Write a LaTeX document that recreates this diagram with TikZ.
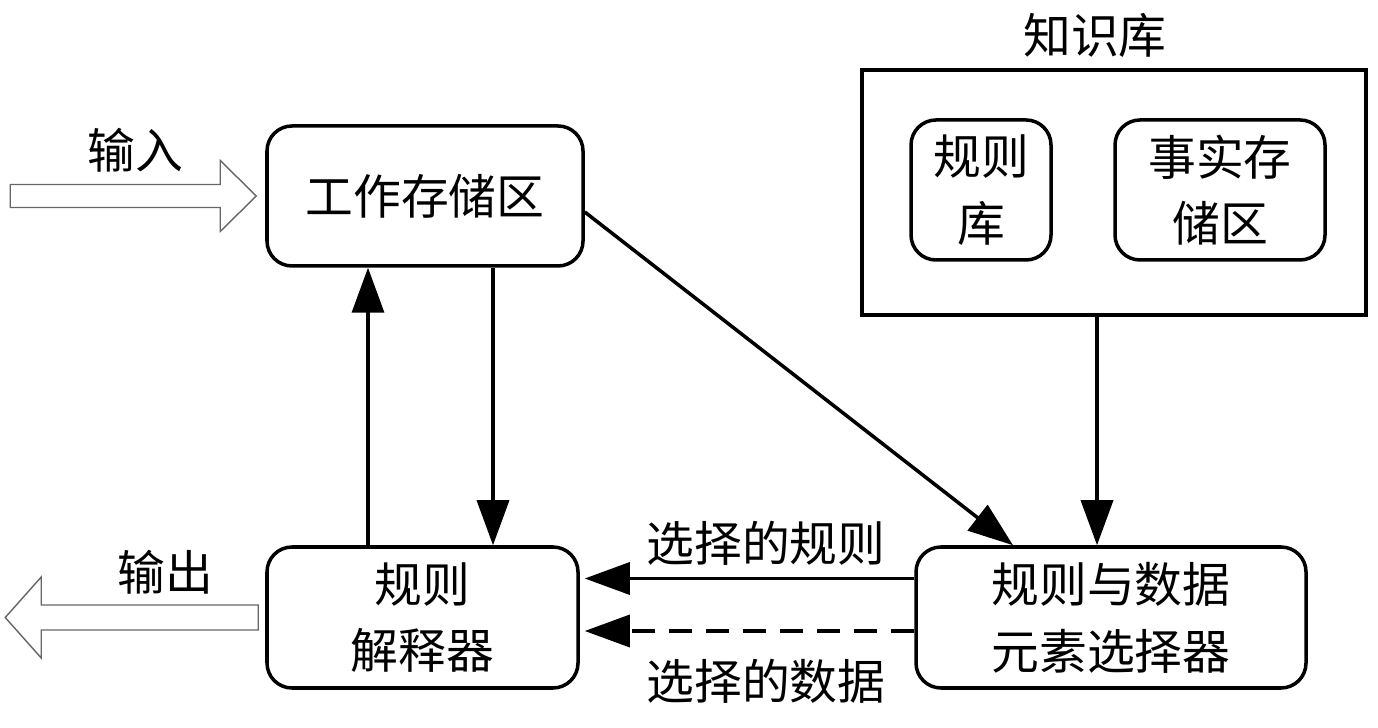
\documentclass[tikz,border=0pt]{standalone}
\usepackage{fontspec}
\setmainfont{Noto Sans CJK SC}
\usepackage{tikz}
\usetikzlibrary{arrows.meta}
\tikzset{>={Triangle[length=4.5mm,width=3.2mm]}}

\begin{document}
\begin{tikzpicture}[
    font=\fontsize{13.6}{19}\selectfont,
    box/.style={draw,line width=1pt,rounded corners=0.25cm,align=center,inner sep=0pt},
    flow/.style={->,line width=1pt},
    block/.style={draw=black!60,line width=0.4pt,fill=white}]
       \useasboundingbox (0,0) rectangle (13.78,7.28);
       \node[box,minimum width=3.16cm,minimum height=1.40cm] (work) at (4.25,5.32) {工作存储区};
       \node[box,minimum width=3.11cm,minimum height=1.41cm] (interp) at (4.225,1.105) {规则\\解释器};
       \node[box,minimum width=3.90cm,minimum height=1.41cm] (select) at (11.11,1.105) {规则与数据\\元素选择器};
       \node[draw,line width=1pt,minimum width=5.04cm,minimum height=2.45cm] (kb) at (11.14,5.355) {};
       \node (kblabel) at (10.95,6.93) {知识库};
       \node[box,minimum width=1.40cm,minimum height=1.40cm] (rules) at (9.81,5.38) {规则\\库};
       \node[box,minimum width=2.10cm,minimum height=1.40cm] (facts) at (12.20,5.38) {事实存\\储区};
       % input / output
       \coordinate (intip) at ([xshift=-0.9mm]work.west);
       \draw[block] (intip) -- ++(-0.36,0.355) -- ++(0,-0.24) -- ++(-2.10,0) -- ++(0,-0.23)
           -- ++(2.10,0) -- ++(0,-0.24) -- cycle;
       \node (inlabel) at (1.35,5.78) {输入};
       \coordinate (outend) at ([xshift=-0.7mm]interp.west);
       \draw[block] (outend) ++(0,0.125) -- ++(-2.17,0) -- ++(0,0.28) -- ++(-0.36,-0.405)
           -- ++(0.36,-0.405) -- ++(0,0.28) -- ++(2.17,0) -- cycle;
       \node (outlabel) at (1.65,1.56) {输出};
       % connectors
       \draw[flow] ([xshift=-5.45mm]interp.north) -- ([xshift=-5.45mm]interp.north |- work.south);
       \draw[flow] ([xshift=6.8mm]work.south) -- ([xshift=6.8mm]work.south |- interp.north);
       \draw[flow] ([yshift=-1.6mm]work.east) -- ([xshift=-9.8mm]select.north);
       \draw[flow] ([xshift=-1.7mm]kb.south) -- ([xshift=-1.7mm]kb.south |- select.north);
       \draw[flow] ([yshift=3.9mm]select.west) -- node[above,pos=0.45]{选择的规则}
           ([yshift=3.9mm,xshift=0.5mm]select.west -| interp.east);
       \draw[flow,dash pattern=on 2.3mm off 1.4mm] ([yshift=-1.35mm]select.west) -- node[below=1.5mm,pos=0.45]{选择的数据}
           ([yshift=-1.35mm,xshift=0.5mm]select.west -| interp.east);
\end{tikzpicture}
\end{document}
